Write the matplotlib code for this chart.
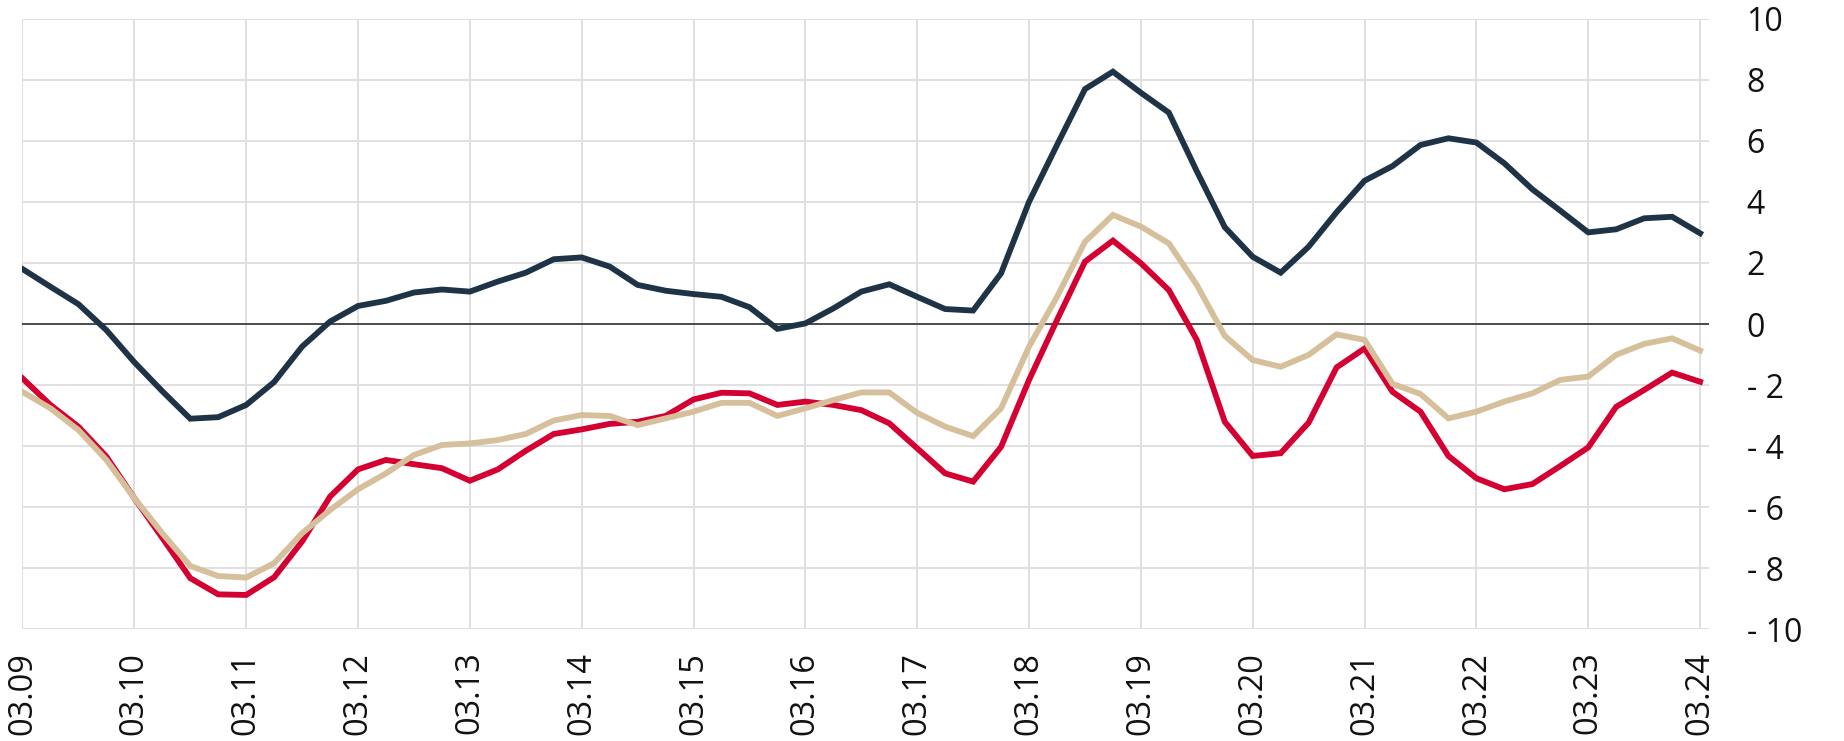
import matplotlib
matplotlib.use("Agg")
import matplotlib.pyplot as plt
import numpy as np

# ---- data (4 observations per day, 03.09 -> 03.24) ----
day_labels = ["03.09", "03.10", "03.11", "03.12", "03.13", "03.14", "03.15", "03.16",
              "03.17", "03.18", "03.19", "03.20", "03.21", "03.22", "03.23", "03.24"]

navy_series = [1.8, 1.22, 0.65, -0.2, -1.25, -2.2, -3.1, -3.05, -2.65, -1.9,
               -0.74, 0.08, 0.59, 0.76, 1.03, 1.13, 1.06, 1.39, 1.68, 2.12,
               2.18, 1.88, 1.28, 1.09, 0.98, 0.89, 0.55, -0.16, 0.02, 0.51,
               1.06, 1.3, 0.89, 0.49, 0.44, 1.66, 4.0, 5.86, 7.69, 8.26,
               7.57, 6.92, 5.0, 3.17, 2.2, 1.68, 2.53, 3.66, 4.69, 5.17,
               5.86, 6.08, 5.94, 5.26, 4.41, 3.71, 3.0, 3.1, 3.46, 3.51, 2.97]

red_series = [-1.78, -2.65, -3.36, -4.34, -5.7, -7.0, -8.32, -8.85, -8.87, -8.29,
              -7.12, -5.65, -4.76, -4.45, -4.59, -4.72, -5.13, -4.76, -4.15, -3.6,
              -3.45, -3.27, -3.2, -3.01, -2.47, -2.25, -2.27, -2.65, -2.54, -2.65,
              -2.82, -3.25, -4.07, -4.89, -5.16, -4.02, -1.83, 0.13, 2.04, 2.73,
              1.99, 1.11, -0.52, -3.2, -4.32, -4.23, -3.23, -1.42, -0.8, -2.22,
              -2.87, -4.32, -5.05, -5.41, -5.24, -4.65, -4.04, -2.71, -2.16, -1.59, -1.89]

tan_series = [-2.22, -2.76, -3.47, -4.45, -5.7, -6.85, -7.92, -8.25, -8.3, -7.83,
              -6.85, -6.09, -5.41, -4.89, -4.29, -3.96, -3.91, -3.8, -3.6, -3.16,
              -2.98, -3.01, -3.31, -3.09, -2.87, -2.58, -2.58, -3.01, -2.76, -2.49,
              -2.24, -2.24, -2.91, -3.36, -3.67, -2.76, -0.74, 0.89, 2.69, 3.57,
              3.19, 2.64, 1.28, -0.39, -1.18, -1.4, -1.01, -0.34, -0.52, -1.96,
              -2.29, -3.09, -2.87, -2.54, -2.27, -1.83, -1.72, -1.01, -0.65, -0.47, -0.87]

y_ticks = [10, 8, 6, 4, 2, 0, -2, -4, -6, -8, -10]
y_tick_labels = ["10", "8", "6", "4", "2", "0", "- 2", "- 4", "- 6", "- 8", "- 10"]

# ---- figure ----
plt.rcParams['font.family'] = ['Open Sans', 'DejaVu Sans']
fig = plt.figure(figsize=(18.44, 7.41), dpi=100)
ax = fig.add_axes([0.0122, 0.1505, 0.9268 - 0.0122, 0.975 - 0.1505])

x = np.arange(len(navy_series)) / 4.0

ax.plot(x, red_series, color="#d50032", lw=4.2, solid_joinstyle="miter", zorder=3)
ax.plot(x, tan_series, color="#d6bf9b", lw=4.2, solid_joinstyle="miter", zorder=4)
ax.plot(x, navy_series, color="#1f3347", lw=4.2, solid_joinstyle="miter", zorder=5)

ax.axhline(0, color="#333333", lw=1.2, zorder=2)

ax.set_xlim(0, 15.08)
ax.set_ylim(-10, 10)

ax.set_xticks(np.arange(len(day_labels)))
ax.set_xticklabels(day_labels, rotation=90, fontsize=23.5, color="#111111")
ax.set_yticks(y_ticks)
ax.set_yticklabels(y_tick_labels, fontsize=23, color="#111111")

ax.yaxis.tick_right()
ax.tick_params(axis="y", length=0, pad=27)
for lab in ax.get_yticklabels():
    lab.set_horizontalalignment("left")
ax.tick_params(axis="x", length=0, pad=16)

ax.grid(True, color="#e0e0e0", lw=1.4, zorder=0)
ax.set_axisbelow(True)
for s in ax.spines.values():
    s.set_visible(False)

fig.savefig("out.png", dpi=100, facecolor="white")
